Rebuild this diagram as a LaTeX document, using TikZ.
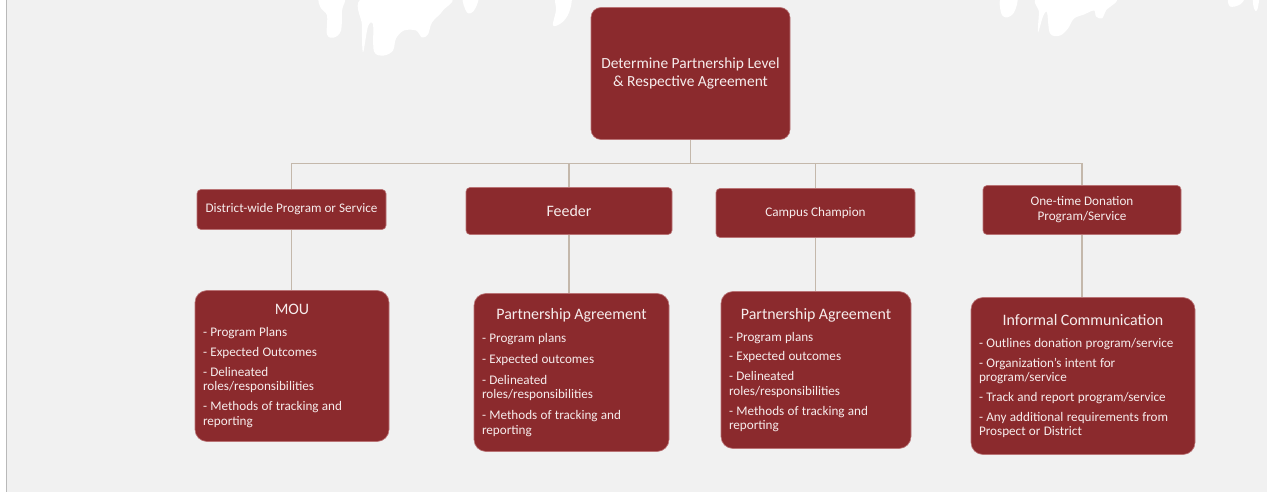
\documentclass[tikz,border=0pt]{standalone}
\usepackage{fontspec}
\setmainfont{Carlito}
\definecolor{maroon}{RGB}{139,42,45}
\definecolor{rim}{RGB}{185,115,117}
\definecolor{pale}{RGB}{246,236,236}
\definecolor{wire}{RGB}{196,184,171}
\definecolor{paper}{RGB}{241,241,241}
\hyphenpenalty=10000
\newcommand{\itm}[1]{\fontsize{13.2}{14.5}\selectfont #1\par}
\newcommand{\hdr}[1]{{\centering\fontsize{16}{18}\selectfont #1\par}\vspace{2bp}}

\begin{document}
\begin{tikzpicture}[x=1bp,y=-1bp,
		topbox/.style={draw=rim,line width=0.6bp,fill=maroon,text=pale,rounded corners=10bp,
			minimum width=199bp,minimum height=132bp,align=center,font=\fontsize{15.5}{18}\selectfont},
		levelbox/.style={draw=rim,line width=0.6bp,fill=maroon,text=pale,rounded corners=4bp,
			align=center,inner sep=0pt,font=\fontsize{13.2}{15}\selectfont},
		docbox/.style={draw=rim,line width=0.6bp,fill=maroon,text=pale,rounded corners=12bp,
			inner xsep=8bp,inner ysep=0pt,align=left},
		conn/.style={draw=wire,line width=1.3bp}]
		% page
		\fill[white] (0,0) rectangle (1267,491);
		\fill[paper] (6,0) rectangle (1267,491);
		\draw[gray!55,line width=1bp] (6.5,0) -- (6.5,491);
		\useasboundingbox (0,0) rectangle (1267,491);
		
		% paint drips along the top edge
		\begin{scope}[white]
			\fill plot[smooth cycle,tension=0.6] coordinates {(320,-3) (344,-3) (342,10) (341,30) (334,37) (327,34) (327,15) (321,8)};
			\fill plot[smooth cycle,tension=0.55] coordinates {(364,-3) (448,-3) (443,10) (432,22) (428,34) (422,37) (416,30) (404,30) (396,38) (393,50) (384,55) (374,51) (373,24) (368,26) (363,52) (362,25)};
			\fill plot[smooth cycle,tension=0.6] coordinates {(463,-3) (478,-3) (474,10) (467,12)};
			\fill plot[smooth cycle,tension=0.6] coordinates {(556,-3) (571,-3) (569,12) (562,22) (553,25) (556,10)};
			\fill plot[smooth cycle,tension=0.6] coordinates {(1001,-3) (1017,-3) (1014,12) (1006,17) (1001,12)};
			\fill plot[smooth cycle,tension=0.55] coordinates {(1040,-3) (1114,-3) (1106,10) (1102,18) (1096,16) (1094,10) (1084,14) (1074,18) (1068,28) (1060,35) (1050,33) (1047,12) (1043,16) (1038,32) (1039,12)};
			\fill plot[smooth cycle,tension=0.6] coordinates {(1229,-3) (1244,-3) (1240,4) (1230,6)};
			\fill plot[smooth cycle,tension=0.6] coordinates {(1253,-3) (1259,-3) (1257,10) (1254,8)};
		\end{scope}
		
		\node[topbox] (top) at (690.5,73) {Determine Partnership Level\\ \& Respective Agreement};
		
		\node[levelbox,minimum width=189bp,minimum height=40bp] (dist) at (291.5,209) {District-wide Program or Service};
		\node[levelbox,minimum width=206bp,minimum height=47bp,font=\fontsize{16}{18}\selectfont] (feeder) at (569,210.5) {Feeder};
		\node[levelbox,minimum width=199bp,minimum height=49bp] (campus) at (815.5,212.5) {Campus Champion};
		\node[levelbox,minimum width=198bp,minimum height=49bp] (onetime) at (1082,209.5) {One-time Donation\\Program/Service};
		
		\node[docbox,text width=178bp,minimum height=151bp] (mou) at (292,365.5) {%
			\setlength{\parskip}{5.5bp}%
			\hdr{MOU}
			\itm{- Program Plans}
			\itm{- Expected Outcomes}
			\itm{- Delineated roles/responsibilities}
			\itm{- Methods of tracking and reporting}};
		\node[docbox,text width=179bp,minimum height=158bp] (pa1) at (571.5,372) {%
			\setlength{\parskip}{6.5bp}%
			\hdr{Partnership Agreement}
			\itm{- Program plans}
			\itm{- Expected outcomes}
			\itm{- Delineated roles/responsibilities}
			\itm{- Methods of tracking and reporting}};
		\node[docbox,text width=174bp,minimum height=157bp] (pa2) at (816,369.5) {%
			\setlength{\parskip}{5.5bp}%
			\hdr{Partnership Agreement}
			\itm{- Program plans}
			\itm{- Expected outcomes}
			\itm{- Delineated roles/responsibilities}
			\itm{- Methods of tracking and reporting}};
		\node[docbox,text width=208bp,minimum height=157bp] (ic) at (1083,375.5) {%
			\setlength{\parskip}{5.5bp}%
			\hdr{Informal Communication}
			\itm{- Outlines donation program/service}
			\itm{- Organization’s intent for program/service}
			\itm{- Track and report program/service}
			\itm{- Any additional requirements from Prospect or District}};
		
		\coordinate (hub) at (690.5,163);
		\draw[conn] (top.south) -- (hub);
		\foreach \c/\d in {dist/mou,feeder/pa1,campus/pa2,onetime/ic} {
			\draw[conn] (hub) -| (\c.north);
			\draw[conn] (\c.south) -- (\c.south |- \d.north);
		}
	\end{tikzpicture}
\end{document}
